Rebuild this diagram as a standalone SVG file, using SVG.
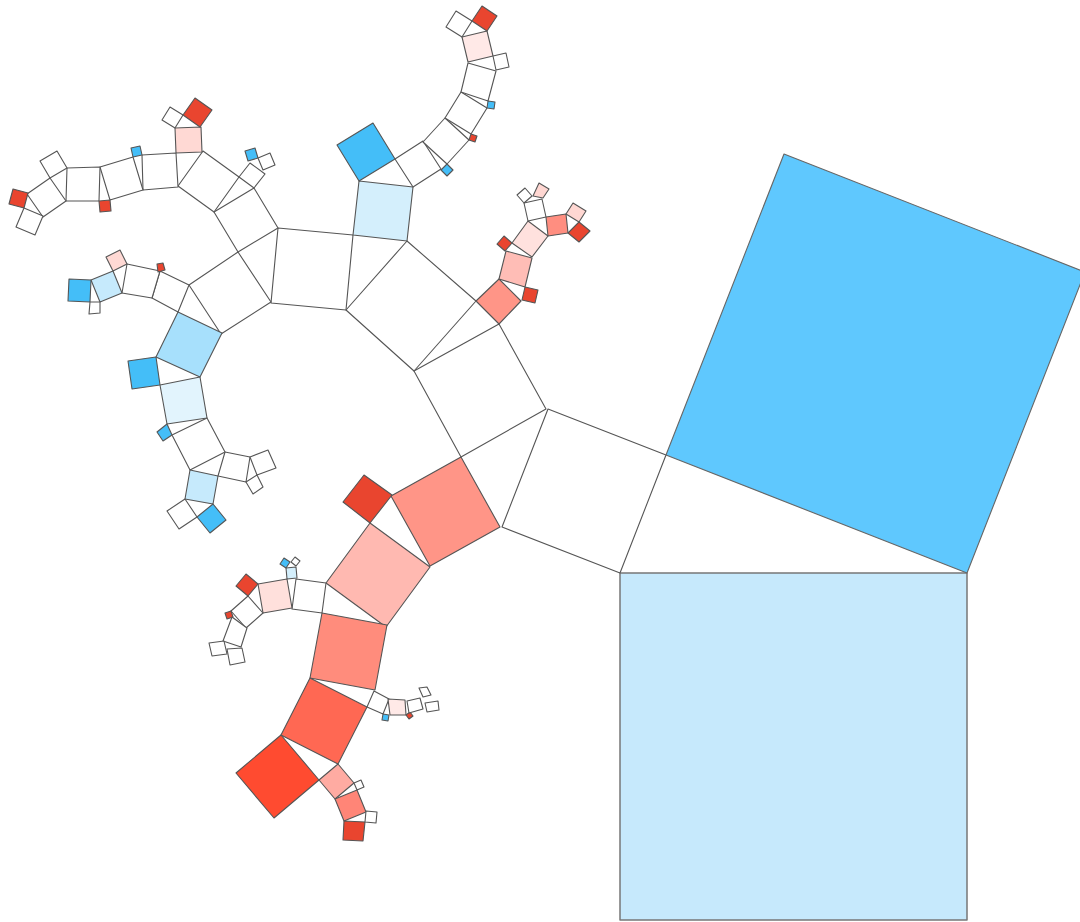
<svg xmlns="http://www.w3.org/2000/svg" width="1080" height="922" viewBox="0 0 1080 922">
<style>
polygon{stroke:#555;stroke-width:1.1;stroke-linejoin:round}
.w{fill:#fff}
.root{fill:#c6e9fc;stroke:#777;stroke-width:1.5}
.bb{fill:#5fc8fe;stroke:#666}
.b{fill:#44bef8}
.lb{fill:#d4effc}
.lb2{fill:#a7e0fc}
.lb3{fill:#c6eafc}
.vlb{fill:#e2f4fd}
.r{fill:#e9452f}
.r1{fill:#ff4b30}
.r2{fill:#ff6853}
.r3{fill:#ff8c7c}
.r4{fill:#ff9587}
.p1{fill:#ffb9b1}
.p2{fill:#ffd9d4}
.p3{fill:#ffe9e7}
</style>
<rect width="1080" height="922" fill="#fff"/>
<g id="root"><polygon class="root" points="620,573 967,573 967,920 620,920"/></g>
<g id="n1"><polygon class="bb" points="666,455 967,573 1085,272 784,154"/></g>
<g id="n2"><polygon class="w" points="620,573 666,455 548,409 502,527"/></g>
<g id="n3"><polygon class="r4" points="461,457 500,527 430,566 391,496"/></g>
<g id="n4"><polygon class="w" points="461,457 546,409 499,324 414,371"/></g>
<g id="n5"><polygon class="r" points="392,495 370,523 343,502 364,475"/></g>
<g id="n6"><polygon class="p1" points="370,523 430,567 386,627 326,583"/></g>
<g id="n7"><polygon class="w" points="326,583 322,613 292,609 296,579"/></g>
<g id="n8"><polygon class="r3" points="322,613 387,625 375,690 310,678"/></g>
<g id="n9"><polygon class="r2" points="310,678 367,707 338,764 281,735"/></g>
<g id="n10"><polygon class="w" points="367,707 374,691 389,699 383,714"/></g>
<g id="n11"><polygon class="r1" points="281,735 319,780 274,818 236,773"/></g>
<g id="n12"><polygon style="fill:#ffaba2" points="319,780 338,764 354,783 335,799"/></g>
<g id="n13"><polygon style="fill:#ff8577" points="335,799 357,790 366,812 344,821"/></g>
<g id="n14"><polygon class="w" points="357,790 354,783 361,780 364,787"/></g>
<g id="n15"><polygon class="r" points="344,821 365,822 363,841 343,840"/></g>
<g id="n16"><polygon class="w" points="365,822 366,811 377,812 376,823"/></g>
<g id="n17"><polygon class="p3" points="390,715 388,699 405,700 406,715"/></g>
<g id="n18"><polygon class="b" points="383,714 389,715 388,721 382,720"/></g>
<g id="n19"><polygon class="r" points="406,715 410,712 413,716 409,719"/></g>
<g id="n20"><polygon class="w" points="407,701 420,698 423,709 409,713"/></g>
<g id="n21"><polygon class="w" points="419,688 427,687 431,695 423,697"/></g>
<g id="n22"><polygon class="w" points="425,703 438,701 439,710 427,712"/></g>
<g id="n23"><polygon class="lb" points="287,579 297,578 296,567 286,568"/></g>
<g id="n24"><polygon style="fill:#ffe0dc" points="292,608 287,579 258,584 263,613"/></g>
<g id="n25"><polygon class="b" points="286,568 290,562 284,558 280,564"/></g>
<g id="n26"><polygon class="w" points="291,562 296,566 300,561 295,557"/></g>
<g id="n27"><polygon class="r" points="258,584 248,596 236,586 246,574"/></g>
<g id="n28"><polygon class="w" points="248,596 263,613 246,628 231,611"/></g>
<g id="n29"><polygon class="r" points="231,611 233,617 227,619 225,613"/></g>
<g id="n30"><polygon class="w" points="232,617 247,628 241,647 223,641"/></g>
<g id="n31"><polygon class="w" points="209,643 224,641 227,654 212,656"/></g>
<g id="n32"><polygon class="w" points="227,649 242,648 245,662 230,665"/></g>
<g id="n33"><polygon class="r4" points="476,301 499,324 521,301 499,279"/></g>
<g id="n34"><polygon class="r" points="522,300 525,287 538,290 535,303"/></g>
<g id="n35"><polygon style="fill:#ffbdb6" points="499,279 525,287 532,258 506,251"/></g>
<g id="n36"><polygon class="r" points="505,251 512,243 504,236 497,244"/></g>
<g id="n37"><polygon style="fill:#ffe1de" points="512,243 532,257 548,236 528,221"/></g>
<g id="n38"><polygon class="w" points="528,221 546,217 542,199 524,203"/></g>
<g id="n39"><polygon style="fill:#ff8e80" points="546,217 548,236 568,233 566,214"/></g>
<g id="n40"><polygon style="fill:#ffd7d2" points="566,214 579,222 586,211 573,203"/></g>
<g id="n41"><polygon class="r" points="579,222 568,233 579,242 590,231"/></g>
<g id="n42"><polygon class="w" points="524,203 532,196 525,188 517,195"/></g>
<g id="n43"><polygon style="fill:#ffd7d2" points="533,196 543,198 549,189 539,183"/></g>
<g id="n44"><polygon class="w" points="414,371 476,301 407,241 346,310"/></g>
<g id="n45"><polygon class="w" points="346,310 353,235 278,228 271,303"/></g>
<g id="n46"><polygon class="lb" points="353,235 407,241 413,187 359,181"/></g>
<g id="n47"><polygon class="b" points="359,181 395,159 373,123 337,145"/></g>
<g id="n48"><polygon class="w" points="395,159 413,187 441,169 423,141"/></g>
<g id="n49"><polygon class="w" points="423,142 447,164 469,140 445,118"/></g>
<g id="n50"><polygon class="b" points="447,164 441,170 447,176 453,170"/></g>
<g id="n51"><polygon class="w" points="445,118 471,134 487,108 461,92"/></g>
<g id="n52"><polygon class="r" points="471,134 469,140 475,142 477,136"/></g>
<g id="n53"><polygon class="w" points="461,92 488,101 496,71 468,63"/></g>
<g id="n54"><polygon class="b" points="488,101 487,108 494,109 495,102"/></g>
<g id="n55"><polygon class="p3" points="468,62 493,56 487,31 462,37"/></g>
<g id="n56"><polygon class="w" points="493,56 496,70 509,67 506,53"/></g>
<g id="n57"><polygon class="w" points="462,37 472,21 456,11 446,27"/></g>
<g id="n58"><polygon class="r" points="472,21 487,31 497,16 482,6"/></g>
<g id="n59"><polygon class="w" points="271,302 238,252 189,285 221,334"/></g>
<g id="n60"><polygon class="w" points="238,252 278,228 254,188 214,212"/></g>
<g id="n61"><polygon class="w" points="214,212 239,177 203,151 178,186"/></g>
<g id="n62"><polygon class="p2" points="176,153 202,152 201,127 175,128"/></g>
<g id="n63"><polygon class="w" points="175,128 183,115 170,107 162,120"/></g>
<g id="n64"><polygon class="r" points="183,115 200,127 212,110 195,98"/></g>
<g id="n65"><polygon class="w" points="178,187 176,153 142,155 143,190"/></g>
<g id="n66"><polygon class="b" points="133,157 142,155 140,146 131,148"/></g>
<g id="n67"><polygon class="w" points="143,190 133,157 100,167 110,200"/></g>
<g id="n68"><polygon class="w" points="100,167 99,201 66,201 67,168"/></g>
<g id="n69"><polygon class="r" points="99,201 110,200 111,211 100,212"/></g>
<g id="n70"><polygon class="w" points="67,168 50,178 40,161 57,151"/></g>
<g id="n71"><polygon class="w" points="50,178 66,201 43,217 27,194"/></g>
<g id="n72"><polygon class="r" points="28,193 24,208 9,204 13,189"/></g>
<g id="n73"><polygon class="w" points="24,208 43,216 35,235 16,227"/></g>
<g id="n74"><polygon class="w" points="239,177 254,188 265,174 250,163"/></g>
<g id="n75"><polygon class="b" points="248,161 258,158 255,148 245,151"/></g>
<g id="n76"><polygon class="w" points="258,158 263,170 275,165 270,153"/></g>
<g id="n77"><polygon class="w" points="189,285 178,312 152,298 160,271"/></g>
<g id="n78"><polygon class="w" points="160,271 152,298 122,293 127,264"/></g>
<g id="n79"><polygon class="r" points="157,264 163,263 165,270 158,272"/></g>
<g id="n80"><polygon class="lb3" points="113,271 122,293 100,302 91,280"/></g>
<g id="n81"><polygon class="p2" points="113,271 127,264 120,250 106,257"/></g>
<g id="n82"><polygon class="b" points="91,280 90,302 68,301 69,279"/></g>
<g id="n83"><polygon class="w" points="90,302 100,302 100,313 89,314"/></g>
<g id="n84"><polygon class="lb2" points="178,312 222,333 200,377 156,357"/></g>
<g id="n85"><polygon class="b" points="156,357 160,385 132,389 128,361"/></g>
<g id="n86"><polygon class="vlb" points="160,385 200,377 207,418 167,424"/></g>
<g id="n87"><polygon class="b" points="167,424 172,435 163,441 157,432"/></g>
<g id="n88"><polygon class="w" points="172,435 207,418 225,452 190,470"/></g>
<g id="n89"><polygon class="lb3" points="190,470 218,476 213,504 185,499"/></g>
<g id="n90"><polygon class="w" points="185,499 197,517 179,529 167,511"/></g>
<g id="n91"><polygon class="b" points="197,517 213,504 226,520 210,533"/></g>
<g id="n92"><polygon class="w" points="218,476 225,452 250,457 246,482"/></g>
<g id="n93"><polygon class="w" points="250,457 268,450 276,468 257,475"/></g>
<g id="n94"><polygon class="w" points="246,482 257,475 263,487 253,494"/></g>
</svg>
